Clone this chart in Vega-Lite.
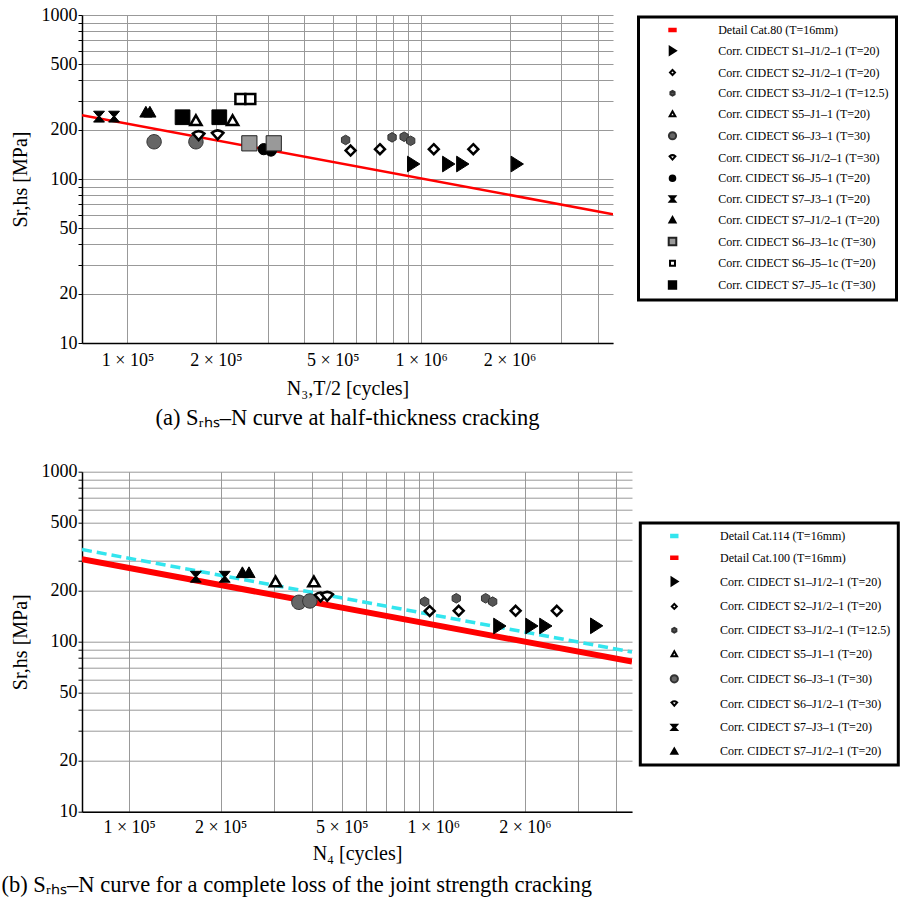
{
  "$schema": "https://vega.github.io/schema/vega-lite/v6.json",
  "padding": {"left": 1, "top": 6, "right": 0, "bottom": 0},
  "background": "white",
  "config": {
    "font": "Liberation Serif",
    "view": {"stroke": null},
    "axis": {"labelFont": "Liberation Serif", "titleFont": "Liberation Serif", "labelColor": "black", "titleColor": "black", "labelFontSize": 18, "titleFontSize": 20, "titleFontWeight": "normal", "gridColor": "#999999", "gridWidth": 1, "gridOpacity": 1, "domainColor": "black", "domainWidth": 1.5, "tickColor": "black", "labelOverlap": false, "labelFlush": false},
    "legend": {"labelFont": "Liberation Serif", "labelFontSize": 12, "labelColor": "black", "strokeColor": "black", "strokeWidth": 3, "fillColor": "white", "padding": 7, "symbolSize": 64, "symbolStrokeWidth": 2, "labelOffset": 39.7, "symbolOffset": 21, "labelLimit": 400},
    "title": {"font": "Liberation Serif", "fontSize": 22.5, "fontWeight": "normal", "color": "black"}
  },
  "datasets": {
    "lineA": [{"N": 70000, "S": 244.5}, {"N": 4500000, "S": 61.05}],
    "lineB100": [{"N": 70000, "S": 305.7}, {"N": 4500000, "S": 76.3}],
    "lineB114": [{"N": 70000, "S": 348.5}, {"N": 4500000, "S": 87.0}],
    "pointsA": [
      {"series": "Corr. CIDECT S1–J1/2–1 (T=20)", "N": 939000, "S": 123.4},
      {"series": "Corr. CIDECT S1–J1/2–1 (T=20)", "N": 1236000, "S": 123.4},
      {"series": "Corr. CIDECT S1–J1/2–1 (T=20)", "N": 1380000, "S": 123.4},
      {"series": "Corr. CIDECT S1–J1/2–1 (T=20)", "N": 2115000, "S": 123.4},
      {"series": "Corr. CIDECT S2–J1/2–1 (T=20)", "N": 575000, "S": 149},
      {"series": "Corr. CIDECT S2–J1/2–1 (T=20)", "N": 724000, "S": 152},
      {"series": "Corr. CIDECT S2–J1/2–1 (T=20)", "N": 1104000, "S": 152},
      {"series": "Corr. CIDECT S2–J1/2–1 (T=20)", "N": 1505000, "S": 152},
      {"series": "Corr. CIDECT S3–J1/2–1 (T=12.5)", "N": 553000, "S": 173},
      {"series": "Corr. CIDECT S3–J1/2–1 (T=12.5)", "N": 796000, "S": 179.5},
      {"series": "Corr. CIDECT S3–J1/2–1 (T=12.5)", "N": 875000, "S": 181},
      {"series": "Corr. CIDECT S3–J1/2–1 (T=12.5)", "N": 921000, "S": 171},
      {"series": "Corr. CIDECT S5–J1–1 (T=20)", "N": 171000, "S": 227},
      {"series": "Corr. CIDECT S5–J1–1 (T=20)", "N": 228000, "S": 227},
      {"series": "Corr. CIDECT S6–J3–1 (T=30)", "N": 123200, "S": 168.7},
      {"series": "Corr. CIDECT S6–J3–1 (T=30)", "N": 171000, "S": 168.7},
      {"series": "Corr. CIDECT S6–J1/2–1 (T=30)", "N": 174700, "S": 183},
      {"series": "Corr. CIDECT S6–J1/2–1 (T=30)", "N": 202800, "S": 185},
      {"series": "Corr. CIDECT S6–J5–1 (T=20)", "N": 291000, "S": 152},
      {"series": "Corr. CIDECT S6–J5–1 (T=20)", "N": 308000, "S": 149},
      {"series": "Corr. CIDECT S7–J3–1 (T=20)", "N": 80000, "S": 240},
      {"series": "Corr. CIDECT S7–J3–1 (T=20)", "N": 90000, "S": 240},
      {"series": "Corr. CIDECT S7–J1/2–1 (T=20)", "N": 115500, "S": 257},
      {"series": "Corr. CIDECT S7–J1/2–1 (T=20)", "N": 119200, "S": 257},
      {"series": "Corr. CIDECT S6–J3–1c (T=30)", "N": 260000, "S": 165},
      {"series": "Corr. CIDECT S6–J3–1c (T=30)", "N": 314800, "S": 165},
      {"series": "Corr. CIDECT S6–J5–1c (T=20)", "N": 242300, "S": 307.6},
      {"series": "Corr. CIDECT S6–J5–1c (T=20)", "N": 262000, "S": 307.6},
      {"series": "Corr. CIDECT S7–J5–1c (T=30)", "N": 154000, "S": 238},
      {"series": "Corr. CIDECT S7–J5–1c (T=30)", "N": 205400, "S": 238}
    ],
    "pointsB": [
      {"series": "Corr. CIDECT S1–J1/2–1 (T=20)", "N": 1648000, "S": 123.7},
      {"series": "Corr. CIDECT S1–J1/2–1 (T=20)", "N": 2100000, "S": 123.7},
      {"series": "Corr. CIDECT S1–J1/2–1 (T=20)", "N": 2334000, "S": 123.7},
      {"series": "Corr. CIDECT S1–J1/2–1 (T=20)", "N": 3430000, "S": 124},
      {"series": "Corr. CIDECT S2–J1/2–1 (T=20)", "N": 973000, "S": 151.6},
      {"series": "Corr. CIDECT S2–J1/2–1 (T=20)", "N": 1212000, "S": 152},
      {"series": "Corr. CIDECT S2–J1/2–1 (T=20)", "N": 1865000, "S": 152},
      {"series": "Corr. CIDECT S2–J1/2–1 (T=20)", "N": 2547000, "S": 152},
      {"series": "Corr. CIDECT S3–J1/2–1 (T=12.5)", "N": 937000, "S": 172},
      {"series": "Corr. CIDECT S3–J1/2–1 (T=12.5)", "N": 1190000, "S": 180},
      {"series": "Corr. CIDECT S3–J1/2–1 (T=12.5)", "N": 1486000, "S": 180},
      {"series": "Corr. CIDECT S3–J1/2–1 (T=12.5)", "N": 1567000, "S": 172},
      {"series": "Corr. CIDECT S5–J1–1 (T=20)", "N": 303000, "S": 225},
      {"series": "Corr. CIDECT S5–J1–1 (T=20)", "N": 405000, "S": 225},
      {"series": "Corr. CIDECT S6–J3–1 (T=30)", "N": 361500, "S": 170.5},
      {"series": "Corr. CIDECT S6–J3–1 (T=30)", "N": 392700, "S": 173.6},
      {"series": "Corr. CIDECT S6–J1/2–1 (T=30)", "N": 426000, "S": 182.6},
      {"series": "Corr. CIDECT S6–J1/2–1 (T=30)", "N": 448000, "S": 184},
      {"series": "Corr. CIDECT S7–J3–1 (T=20)", "N": 165700, "S": 241},
      {"series": "Corr. CIDECT S7–J3–1 (T=20)", "N": 206200, "S": 241},
      {"series": "Corr. CIDECT S7–J1/2–1 (T=20)", "N": 235700, "S": 256},
      {"series": "Corr. CIDECT S7–J1/2–1 (T=20)", "N": 247800, "S": 256}
    ]
  },
  "bounds": "flush",
  "spacing": 128.7,
  "resolve": {
    "scale": {"x": "independent", "y": "independent", "shape": "independent", "fill": "independent", "stroke": "independent"},
    "legend": {"shape": "independent", "fill": "independent", "stroke": "independent"}
  },
  "vconcat": [
    {
      "width": 531,
      "height": 328,
      "title": {"text": "(a) Sᵣₕₛ–N curve at half-thickness cracking", "orient": "bottom", "anchor": "middle", "frame": "group", "offset": 9},
      "encoding": {
        "x": {"field": "N", "type": "quantitative", "scale": {"type": "log", "domain": [70000, 4500000], "nice": false},
          "axis": {"title": "N₃,T/2 [cycles]", "values": [100000, 200000, 300000, 400000, 500000, 600000, 700000, 800000, 900000, 1000000, 2000000, 3000000, 4000000],
            "labelExpr": "datum.value == 100000 ? '1 × 10⁵' : datum.value == 200000 ? '2 × 10⁵' : datum.value == 500000 ? '5 × 10⁵' : datum.value == 1000000 ? '1 × 10⁶' : datum.value == 2000000 ? '2 × 10⁶' : ''",
            "ticks": false, "labelPadding": 8, "titlePadding": 9, "grid": true}},
        "y": {"field": "S", "type": "quantitative", "scale": {"type": "log", "domain": [10, 1000], "nice": false},
          "axis": {"title": "Sr,hs [MPa]", "values": [10, 20, 30, 40, 50, 60, 70, 80, 90, 100, 200, 300, 400, 500, 600, 700, 800, 900, 1000],
            "labelExpr": "indexof([10, 20, 50, 100, 200, 500, 1000], datum.value) >= 0 ? '' + datum.value : ''",
            "tickSize": 4, "labelPadding": 1, "titlePadding": 11, "grid": true}}
      },
      "layer": [
        {"data": {"name": "lineA"}, "mark": {"type": "line", "color": "#ff0000", "strokeWidth": 2.5, "clip": true}, "encoding": {}},
        {
          "data": {"name": "pointsA"},
          "transform": [{"filter": {"field": "series", "oneOf": ["Corr. CIDECT S1–J1/2–1 (T=20)", "Corr. CIDECT S3–J1/2–1 (T=12.5)", "Corr. CIDECT S6–J3–1 (T=30)", "Corr. CIDECT S6–J5–1 (T=20)", "Corr. CIDECT S7–J3–1 (T=20)", "Corr. CIDECT S7–J1/2–1 (T=20)", "Corr. CIDECT S6–J3–1c (T=30)", "Corr. CIDECT S7–J5–1c (T=30)"]}}],
          "mark": {"type": "point", "filled": true, "size": 256, "strokeWidth": 1, "opacity": 1},
          "encoding": {
            "shape": {"field": "series", "type": "nominal",
              "scale": {"domain": ["Detail Cat.80 (T=16mm)", "Corr. CIDECT S1–J1/2–1 (T=20)", "Corr. CIDECT S2–J1/2–1 (T=20)", "Corr. CIDECT S3–J1/2–1 (T=12.5)", "Corr. CIDECT S5–J1–1 (T=20)", "Corr. CIDECT S6–J3–1 (T=30)", "Corr. CIDECT S6–J1/2–1 (T=30)", "Corr. CIDECT S6–J5–1 (T=20)", "Corr. CIDECT S7–J3–1 (T=20)", "Corr. CIDECT S7–J1/2–1 (T=20)", "Corr. CIDECT S6–J3–1c (T=30)", "Corr. CIDECT S6–J5–1c (T=20)", "Corr. CIDECT S7–J5–1c (T=30)"],
                "range": ["M-0.8,-0.3H0.8V0.3H-0.8Z", "M-0.7,-0.98L0.84,0L-0.7,0.98Z", "M0,-0.62L0.62,0L0,0.62L-0.62,0Z", "M0,-0.6L0.52,-0.3L0.52,0.3L0,0.6L-0.52,0.3L-0.52,-0.3Z", "M0,-0.66L0.7,0.56L-0.7,0.56Z", "M-0.9,0A0.9,0.9 0 1,0 0.9,0A0.9,0.9 0 1,0 -0.9,0Z", "M-0.72,-0.3Q0,-0.9 0.72,-0.3L0,0.52Z", "M-0.7,0A0.7,0.7 0 1,0 0.7,0A0.7,0.7 0 1,0 -0.7,0Z", "M-0.68,-0.68L0.68,-0.68L0.1,0L0.68,0.68L-0.68,0.68L-0.1,0Z", "M0,-0.68L0.76,0.66L-0.76,0.66Z", "M-0.95,-0.95H0.95V0.95H-0.95Z", "M-0.62,-0.62H0.62V0.62H-0.62Z", "M-0.92,-0.92H0.92V0.92H-0.92Z"]},
              "legend": {"orient": "none", "legendX": 556.5, "legendY": 2, "title": null, "rowPadding": 6.75}},
            "fill": {"field": "series", "type": "nominal",
              "scale": {"domain": ["Detail Cat.80 (T=16mm)", "Corr. CIDECT S1–J1/2–1 (T=20)", "Corr. CIDECT S2–J1/2–1 (T=20)", "Corr. CIDECT S3–J1/2–1 (T=12.5)", "Corr. CIDECT S5–J1–1 (T=20)", "Corr. CIDECT S6–J3–1 (T=30)", "Corr. CIDECT S6–J1/2–1 (T=30)", "Corr. CIDECT S6–J5–1 (T=20)", "Corr. CIDECT S7–J3–1 (T=20)", "Corr. CIDECT S7–J1/2–1 (T=20)", "Corr. CIDECT S6–J3–1c (T=30)", "Corr. CIDECT S6–J5–1c (T=20)", "Corr. CIDECT S7–J5–1c (T=30)"],
                "range": ["#ff0000", "#000000", "#ffffff", "#555555", "#ffffff", "#666666", "#ffffff", "#000000", "#000000", "#000000", "#999999", "#ffffff", "#000000"]},
              "legend": {"orient": "none", "legendX": 556.5, "legendY": 2, "title": null, "rowPadding": 6.75}},
            "stroke": {"field": "series", "type": "nominal",
              "scale": {"domain": ["Detail Cat.80 (T=16mm)", "Corr. CIDECT S1–J1/2–1 (T=20)", "Corr. CIDECT S2–J1/2–1 (T=20)", "Corr. CIDECT S3–J1/2–1 (T=12.5)", "Corr. CIDECT S5–J1–1 (T=20)", "Corr. CIDECT S6–J3–1 (T=30)", "Corr. CIDECT S6–J1/2–1 (T=30)", "Corr. CIDECT S6–J5–1 (T=20)", "Corr. CIDECT S7–J3–1 (T=20)", "Corr. CIDECT S7–J1/2–1 (T=20)", "Corr. CIDECT S6–J3–1c (T=30)", "Corr. CIDECT S6–J5–1c (T=20)", "Corr. CIDECT S7–J5–1c (T=30)"],
                "range": ["#ff0000", "#000000", "#000000", "#333333", "#000000", "#333333", "#000000", "#000000", "#000000", "#000000", "#222222", "#000000", "#000000"]},
              "legend": {"orient": "none", "legendX": 556.5, "legendY": 2, "title": null, "rowPadding": 6.75}}
          }
        },
        {
          "data": {"name": "pointsA"},
          "transform": [{"filter": {"field": "series", "oneOf": ["Corr. CIDECT S2–J1/2–1 (T=20)", "Corr. CIDECT S5–J1–1 (T=20)", "Corr. CIDECT S6–J1/2–1 (T=30)", "Corr. CIDECT S6–J5–1c (T=20)"]}}],
          "mark": {"type": "point", "filled": true, "size": 256, "strokeWidth": 2.5, "opacity": 1},
          "encoding": {
            "shape": {"field": "series", "type": "nominal", "legend": {"orient": "none", "legendX": 556.5, "legendY": 2, "title": null, "rowPadding": 6.75}},
            "fill": {"field": "series", "type": "nominal", "legend": {"orient": "none", "legendX": 556.5, "legendY": 2, "title": null, "rowPadding": 6.75}},
            "stroke": {"field": "series", "type": "nominal", "legend": {"orient": "none", "legendX": 556.5, "legendY": 2, "title": null, "rowPadding": 6.75}}
          }
        }
      ]
    },
    {
      "width": 550,
      "height": 340,
      "title": {"text": "(b) Sᵣₕₛ–N curve for a complete loss of the joint strength cracking", "orient": "bottom", "anchor": "start", "frame": "group", "dx": -80.5, "offset": 10},
      "encoding": {
        "x": {"field": "N", "type": "quantitative", "scale": {"type": "log", "domain": [70000, 4500000], "nice": false},
          "axis": {"title": "N₄ [cycles]", "values": [100000, 200000, 300000, 400000, 500000, 600000, 700000, 800000, 900000, 1000000, 2000000, 3000000, 4000000],
            "labelExpr": "datum.value == 100000 ? '1 × 10⁵' : datum.value == 200000 ? '2 × 10⁵' : datum.value == 500000 ? '5 × 10⁵' : datum.value == 1000000 ? '1 × 10⁶' : datum.value == 2000000 ? '2 × 10⁶' : ''",
            "ticks": false, "labelPadding": 7, "titlePadding": 7, "grid": true}},
        "y": {"field": "S", "type": "quantitative", "scale": {"type": "log", "domain": [10, 1000], "nice": false},
          "axis": {"title": "Sr,hs [MPa]", "values": [10, 20, 30, 40, 50, 60, 70, 80, 90, 100, 200, 300, 400, 500, 600, 700, 800, 900, 1000],
            "labelExpr": "indexof([10, 20, 50, 100, 200, 500, 1000], datum.value) >= 0 ? '' + datum.value : ''",
            "tickSize": 4, "labelPadding": 1, "titlePadding": 11, "grid": true}}
      },
      "layer": [
        {"data": {"name": "lineB100"}, "mark": {"type": "line", "color": "#ff0000", "strokeWidth": 6, "clip": true}, "encoding": {}},
        {"data": {"name": "lineB114"}, "mark": {"type": "line", "color": "#33e5ee", "strokeWidth": 3.5, "strokeDash": [10, 5], "clip": true}, "encoding": {}},
        {
          "data": {"name": "pointsB"},
          "transform": [{"filter": {"field": "series", "oneOf": ["Corr. CIDECT S1–J1/2–1 (T=20)", "Corr. CIDECT S3–J1/2–1 (T=12.5)", "Corr. CIDECT S6–J3–1 (T=30)", "Corr. CIDECT S7–J3–1 (T=20)", "Corr. CIDECT S7–J1/2–1 (T=20)"]}}],
          "mark": {"type": "point", "filled": true, "size": 256, "strokeWidth": 1, "opacity": 1},
          "encoding": {
            "shape": {"field": "series", "type": "nominal",
              "scale": {"domain": ["Detail Cat.114 (T=16mm)", "Detail Cat.100 (T=16mm)", "Corr. CIDECT S1–J1/2–1 (T=20)", "Corr. CIDECT S2–J1/2–1 (T=20)", "Corr. CIDECT S3–J1/2–1 (T=12.5)", "Corr. CIDECT S5–J1–1 (T=20)", "Corr. CIDECT S6–J3–1 (T=30)", "Corr. CIDECT S6–J1/2–1 (T=30)", "Corr. CIDECT S7–J3–1 (T=20)", "Corr. CIDECT S7–J1/2–1 (T=20)"],
                "range": ["M-0.8,-0.3H0.8V0.3H-0.8Z", "M-0.8,-0.3H0.8V0.3H-0.8Z", "M-0.7,-0.98L0.84,0L-0.7,0.98Z", "M0,-0.62L0.62,0L0,0.62L-0.62,0Z", "M0,-0.6L0.52,-0.3L0.52,0.3L0,0.6L-0.52,0.3L-0.52,-0.3Z", "M0,-0.66L0.7,0.56L-0.7,0.56Z", "M-0.9,0A0.9,0.9 0 1,0 0.9,0A0.9,0.9 0 1,0 -0.9,0Z", "M-0.72,-0.3Q0,-0.9 0.72,-0.3L0,0.52Z", "M-0.68,-0.68L0.68,-0.68L0.1,0L0.68,0.68L-0.68,0.68L-0.1,0Z", "M0,-0.68L0.76,0.66L-0.76,0.66Z"]},
              "legend": {"orient": "none", "legendX": 558.3, "legendY": 51.3, "title": null, "rowPadding": 9.8}},
            "fill": {"field": "series", "type": "nominal",
              "scale": {"domain": ["Detail Cat.114 (T=16mm)", "Detail Cat.100 (T=16mm)", "Corr. CIDECT S1–J1/2–1 (T=20)", "Corr. CIDECT S2–J1/2–1 (T=20)", "Corr. CIDECT S3–J1/2–1 (T=12.5)", "Corr. CIDECT S5–J1–1 (T=20)", "Corr. CIDECT S6–J3–1 (T=30)", "Corr. CIDECT S6–J1/2–1 (T=30)", "Corr. CIDECT S7–J3–1 (T=20)", "Corr. CIDECT S7–J1/2–1 (T=20)"],
                "range": ["#33e5ee", "#ff0000", "#000000", "#ffffff", "#555555", "#ffffff", "#666666", "#ffffff", "#000000", "#000000"]},
              "legend": {"orient": "none", "legendX": 558.3, "legendY": 51.3, "title": null, "rowPadding": 9.8}},
            "stroke": {"field": "series", "type": "nominal",
              "scale": {"domain": ["Detail Cat.114 (T=16mm)", "Detail Cat.100 (T=16mm)", "Corr. CIDECT S1–J1/2–1 (T=20)", "Corr. CIDECT S2–J1/2–1 (T=20)", "Corr. CIDECT S3–J1/2–1 (T=12.5)", "Corr. CIDECT S5–J1–1 (T=20)", "Corr. CIDECT S6–J3–1 (T=30)", "Corr. CIDECT S6–J1/2–1 (T=30)", "Corr. CIDECT S7–J3–1 (T=20)", "Corr. CIDECT S7–J1/2–1 (T=20)"],
                "range": ["#33e5ee", "#ff0000", "#000000", "#000000", "#333333", "#000000", "#333333", "#000000", "#000000", "#000000"]},
              "legend": {"orient": "none", "legendX": 558.3, "legendY": 51.3, "title": null, "rowPadding": 9.8}}
          }
        },
        {
          "data": {"name": "pointsB"},
          "transform": [{"filter": {"field": "series", "oneOf": ["Corr. CIDECT S2–J1/2–1 (T=20)", "Corr. CIDECT S5–J1–1 (T=20)", "Corr. CIDECT S6–J1/2–1 (T=30)"]}}],
          "mark": {"type": "point", "filled": true, "size": 256, "strokeWidth": 2.5, "opacity": 1},
          "encoding": {
            "shape": {"field": "series", "type": "nominal", "legend": {"orient": "none", "legendX": 558.3, "legendY": 51.3, "title": null, "rowPadding": 9.8}},
            "fill": {"field": "series", "type": "nominal", "legend": {"orient": "none", "legendX": 558.3, "legendY": 51.3, "title": null, "rowPadding": 9.8}},
            "stroke": {"field": "series", "type": "nominal", "legend": {"orient": "none", "legendX": 558.3, "legendY": 51.3, "title": null, "rowPadding": 9.8}}
          }
        }
      ]
    }
  ]
}
